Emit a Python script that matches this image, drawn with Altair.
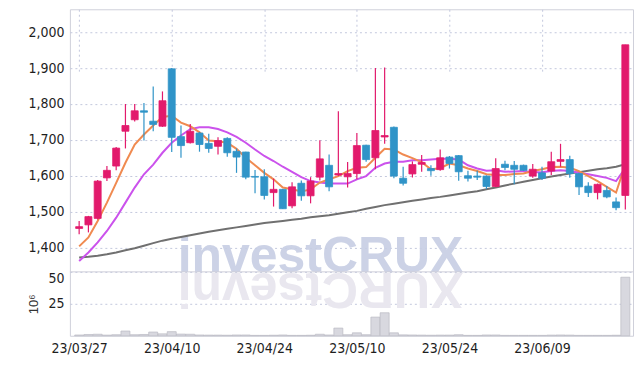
import altair as alt
import pandas as pd

dates = ["23/03/27", "23/03/28", "23/03/29", "23/03/30", "23/03/31",
         "23/04/03", "23/04/04", "23/04/05", "23/04/06", "23/04/07",
         "23/04/10", "23/04/11", "23/04/12", "23/04/13", "23/04/14",
         "23/04/17", "23/04/18", "23/04/19", "23/04/20", "23/04/21",
         "23/04/24", "23/04/25", "23/04/26", "23/04/27", "23/04/28",
         "23/05/02", "23/05/03", "23/05/04", "23/05/08", "23/05/09",
         "23/05/10", "23/05/11", "23/05/12", "23/05/15", "23/05/16",
         "23/05/17", "23/05/18", "23/05/19", "23/05/22", "23/05/23",
         "23/05/24", "23/05/25", "23/05/26", "23/05/30", "23/05/31",
         "23/06/01", "23/06/02", "23/06/05", "23/06/07", "23/06/08",
         "23/06/09", "23/06/12", "23/06/13", "23/06/14", "23/06/15",
         "23/06/16", "23/06/19", "23/06/20", "23/06/21", "23/06/22"]

open_ = [1453, 1463, 1481, 1594, 1627, 1724, 1756, 1781, 1752, 1738,
         1898, 1709, 1692, 1719, 1690, 1682, 1704, 1668, 1666, 1598,
         1597, 1553, 1562, 1516, 1579, 1544, 1596, 1629, 1602, 1597,
         1606, 1685, 1650, 1708, 1735, 1593, 1605, 1632, 1620, 1617,
         1652, 1656, 1600, 1599, 1599, 1570, 1632, 1629, 1629, 1599,
         1608, 1613, 1640, 1645, 1606, 1571, 1553, 1559, 1527, 1545]
high = [1474, 1488, 1588, 1627, 1680, 1800, 1800, 1803, 1849, 1835,
        1900, 1740, 1744, 1722, 1717, 1707, 1707, 1676, 1667, 1616,
        1618, 1592, 1563, 1582, 1587, 1596, 1699, 1659, 1780, 1638,
        1719, 1686, 1900, 1902, 1737, 1625, 1640, 1658, 1629, 1673,
        1655, 1658, 1614, 1614, 1601, 1649, 1642, 1641, 1631, 1633,
        1625, 1667, 1689, 1656, 1608, 1582, 1578, 1571, 1539, 1965]
low = [1437, 1442, 1478, 1585, 1615, 1676, 1751, 1698, 1724, 1736,
       1666, 1650, 1690, 1667, 1664, 1659, 1653, 1608, 1590, 1551,
       1534, 1514, 1507, 1509, 1530, 1523, 1587, 1557, 1599, 1567,
       1590, 1639, 1618, 1689, 1593, 1573, 1595, 1611, 1600, 1614,
       1620, 1586, 1584, 1588, 1563, 1568, 1615, 1576, 1613, 1594,
       1588, 1602, 1625, 1594, 1546, 1541, 1534, 1537, 1504, 1506]
close = [1458, 1486, 1585, 1615, 1677, 1740, 1781, 1777, 1743, 1809,
         1707, 1684, 1724, 1687, 1676, 1698, 1664, 1652, 1596, 1596,
         1545, 1562, 1508, 1569, 1544, 1585, 1647, 1569, 1606, 1606,
         1684, 1645, 1726, 1712, 1599, 1579, 1631, 1637, 1614, 1650,
         1634, 1611, 1593, 1596, 1570, 1620, 1623, 1618, 1615, 1618,
         1593, 1639, 1645, 1606, 1569, 1553, 1576, 1541, 1511, 1965]
volume_m = [0.6, 1.0, 1.2, 0.5, 0.8, 3.7, 0.8, 1.0, 2.9, 1.5,
            3.2, 1.3, 1.2, 0.6, 0.5, 0.5, 0.4, 0.6, 0.6, 0.3,
            0.3, 0.4, 0.6, 0.3, 0.3, 0.4, 1.2, 0.6, 6.0, 0.8,
            2.3, 0.8, 14.6, 18.0, 2.3, 0.7, 0.6, 0.5, 0.4, 0.5,
            0.5, 0.8, 0.3, 0.3, 0.6, 0.6, 0.3, 0.3, 0.3, 0.3,
            0.3, 0.5, 0.6, 0.5, 0.3, 0.3, 0.3, 0.3, 0.4, 45.8]
ma_short = [1403, 1428, 1474, 1525, 1580, 1636, 1687, 1715, 1740, 1764,
            1767, 1748, 1738, 1721, 1698, 1696, 1692, 1675, 1650, 1629,
            1608, 1590, 1567, 1562, 1556, 1562, 1581, 1590, 1599, 1613,
            1622, 1624, 1650, 1675, 1673, 1659, 1649, 1638, 1618, 1621,
            1634, 1629, 1620, 1613, 1604, 1602, 1602, 1605, 1606, 1613,
            1618, 1624, 1625, 1622, 1613, 1599, 1585, 1569, 1553, 1631]
ma_mid = [1362, 1386, 1414, 1446, 1483, 1525, 1567, 1604, 1631, 1664,
          1692, 1712, 1730, 1735, 1735, 1730, 1721, 1708, 1692, 1673,
          1655, 1641, 1625, 1611, 1596, 1585, 1581, 1578, 1578, 1578,
          1590, 1599, 1622, 1634, 1639, 1639, 1643, 1643, 1645, 1647,
          1647, 1645, 1629, 1620, 1614, 1615, 1611, 1612, 1613, 1610,
          1610, 1613, 1615, 1613, 1608, 1604, 1599, 1594, 1585, 1621]
ma_long = [1372, 1374, 1377, 1381, 1386, 1392, 1398, 1405, 1412, 1419,
           1424, 1429, 1434, 1439, 1444, 1448, 1452, 1456, 1460, 1464,
           1468, 1471, 1474, 1477, 1480, 1484, 1487, 1490, 1494, 1498,
           1502, 1508, 1513, 1518, 1522, 1526, 1530, 1534, 1538, 1541,
           1545, 1549, 1553, 1557, 1562, 1567, 1573, 1578, 1583, 1588,
           1593, 1598, 1602, 1606, 1610, 1614, 1618, 1621, 1625, 1632]
tick_idx = [0, 10, 20, 30, 40, 50]
price_ticks = [1400, 1500, 1600, 1700, 1800, 1900, 2000]
volume_ticks = [25, 50]

RED = "#e21a6c"
BLUE = "#3094c8"
FONT = "Liberation Sans Narrow, DejaVu Sans Condensed, sans-serif"
GRID = "#c3c8dd"
FRAME = "#cfd0da"

W = 564          # plot width
HP = 263         # price panel height
HV = 64          # volume panel height
H = HP + HV

n = len(dates)
df = pd.DataFrame({"i": list(range(n)), "date": dates, "o": open_, "h": high,
                   "l": low, "c": close, "vol": volume_m})
df["dir"] = ["up" if c >= o else "down" for o, c in zip(open_, close)]

ma_df = pd.concat([
    pd.DataFrame({"i": list(range(n)), "v": ma_long, "s": "long"}),
    pd.DataFrame({"i": list(range(n)), "v": ma_mid, "s": "mid"}),
    pd.DataFrame({"i": list(range(n)), "v": ma_short, "s": "short"}),
])

label_expr = "[" + ",".join("'%s'" % d for d in dates) + "][datum.value]"
xscale = alt.Scale(domain=[-0.46, n - 0.71], nice=False, zero=False)
x_axis = alt.Axis(values=tick_idx, labelExpr=label_expr, ticks=False, tickSize=0,
                  domain=False, grid=True, gridDash=[2, 3], gridColor=GRID,
                  title=None, labelFont=FONT, labelFontSize=14, labelColor="#1e1e1e",
                  labelPadding=6, labelFlush=False)
X = alt.X("i:Q", scale=xscale, axis=x_axis)

p_scale = alt.Scale(domain=[1332, 2064], range=[HP, 0], nice=False, zero=False)
p_axis = alt.Axis(values=price_ticks, format=",d", orient="left", ticks=False, tickSize=0,
                  domain=False, grid=True, gridDash=[2, 3], gridColor=GRID, title=None,
                  labelFont=FONT, labelFontSize=14, labelColor="#1e1e1e", labelPadding=6)
v_scale = alt.Scale(domain=[0, 50], range=[H, HP], nice=False, zero=True)
v_axis = alt.Axis(values=volume_ticks, format="d", orient="left", ticks=False, tickSize=0,
                  domain=False, grid=True, gridDash=[2, 3], gridColor=GRID,
                  title="10⁶", titleFont="Liberation Sans", titleFontSize=13,
                  titleFontWeight="normal", titleColor="#333", titlePadding=7,
                  labelFont=FONT, labelFontSize=14, labelColor="#1e1e1e",
                  labelPadding=6, labelFlush=True)

cscale = alt.Scale(domain=["up", "down"], range=[RED, BLUE])

watermark = alt.Chart(pd.DataFrame({"t": ["investCRUX"]})).mark_text(
    font="Liberation Sans", fontWeight="bold", fontSize=50, color="#c7cee4",
    align="center", baseline="alphabetic", opacity=0.9
).encode(x=alt.value(251), y=alt.value(HP), text="t:N")

reflection = alt.Chart(pd.DataFrame({"t": ["XURCtsevni"]})).mark_text(
    font="Liberation Sans", fontWeight="bold", fontSize=50, color="#e9e7ef",
    align="center", baseline="alphabetic", angle=180
).encode(x=alt.value(251), y=alt.value(HP + 1), text="t:N")

vol_bars = alt.Chart(df).mark_bar(size=9, fill="#d8d8df", stroke="#b9b9c3",
                                  strokeWidth=0.7).encode(
    x=X,
    y=alt.Y("vol:Q", scale=v_scale, axis=v_axis),
)

lines = alt.Chart(ma_df).mark_line(strokeWidth=2).encode(
    x=X,
    y=alt.Y("v:Q", scale=p_scale, axis=p_axis),
    color=alt.Color("s:N", scale=alt.Scale(domain=["long", "mid", "short"],
                                           range=["#707070", "#cb52ec", "#f08a50"]),
                    legend=None),
    order=alt.Order("i:Q"),
)

wicks = alt.Chart(df).mark_rule(strokeWidth=1.2).encode(
    x=X, y=alt.Y("l:Q", scale=p_scale, axis=p_axis), y2="h:Q",
    stroke=alt.Stroke("dir:N", scale=cscale, legend=None))

bodies = alt.Chart(df).mark_bar(size=7, strokeWidth=0.8).encode(
    x=X, y=alt.Y("o:Q", scale=p_scale, axis=p_axis), y2="c:Q",
    fill=alt.Fill("dir:N", scale=cscale, legend=None),
    stroke=alt.Stroke("dir:N", scale=cscale, legend=None))

separator = alt.Chart(pd.DataFrame({"k": [0]})).mark_rule(color=FRAME, strokeWidth=1).encode(
    x=alt.value(0), x2=alt.value(W), y=alt.value(HP))

vol_layer = alt.layer(reflection, vol_bars)
price_layer = alt.layer(watermark, lines, wicks, bodies)

chart = alt.layer(vol_layer, price_layer, separator).resolve_scale(
    y="independent"
).properties(
    width=W, height=H,
    padding={"left": 19, "top": 1, "right": 0, "bottom": 0},
    background="white",
).configure_view(stroke=FRAME)

chart.save("out.html", embed_options={"renderer": "svg", "actions": False})
